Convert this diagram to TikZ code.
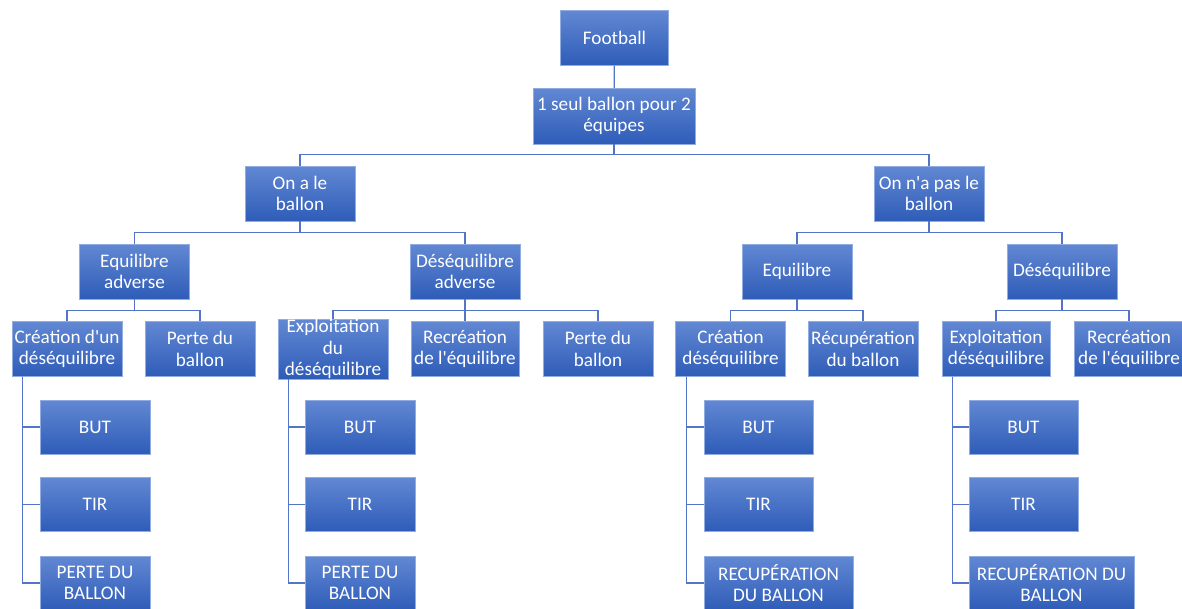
\documentclass[tikz,border=0pt]{standalone}
\usepackage{fontspec}
\setmainfont{Carlito}[Ligatures=TeXOff]
\definecolor{boxtop}{RGB}{98,136,211}
\definecolor{boxbot}{RGB}{46,92,184}
\definecolor{linecol}{RGB}{82,117,197}
\newcommand{\boxfont}{\fontsize{19.2}{21.5}\selectfont}
\tikzset{
  box/.style={rectangle, top color=boxtop, bottom color=boxbot, draw=boxtop!70!white, line width=0.4pt,
    text=white, minimum width=110, minimum height=55, inner sep=0pt, align=center, font=\boxfont},
  conn/.style={draw=linecol, line width=1.3pt}
}
\begin{document}
\begin{tikzpicture}[x=1pt,y=-1pt]
\useasboundingbox (0,0) rectangle (1182,608);
% nodes
\node[box, minimum width=108] (football) at (614.5,38) {Football};
\node[box, minimum width=162, minimum height=56] (seul) at (614,116) {1 seul ballon pour 2\\équipes};
\node[box] (onale) at (300,193.5) {On a le\\ballon};
\node[box] (onapas) at (929,193.5) {On n'a pas le\\ballon};
\node[box] (eqadv) at (134.5,271.5) {Equilibre\\adverse};
\node[box] (desadv) at (465,271.5) {Déséquilibre\\adverse};
\node[box] (eq) at (797,271.5) {Equilibre};
\node[box] (deseq) at (1062,271.5) {Déséquilibre};
\node[box] (crea1) at (67,349) {Création d'un\\déséquilibre};
\node[box] (perte1) at (200,349) {Perte du\\ballon};
\node[box] (expl1) at (333,349) {Exploitation\\du\\déséquilibre};
\node[box, minimum width=108] (recr1) at (465,349) {Recréation\\de l'équilibre};
\node[box] (perte2) at (598,349) {Perte du\\ballon};
\node[box] (crea2) at (730.5,349) {Création\\déséquilibre};
\node[box] (recup1) at (863,349) {Récupération\\du ballon};
\node[box, minimum width=108] (expl2) at (996,349) {Exploitation\\déséquilibre};
\node[box] (recr2) at (1129,349) {Recréation\\de l'équilibre};
% leaf group 1
\node[box, minimum height=54] (but1) at (95,427) {BUT};
\node[box, minimum height=54] (tir1) at (95,504.5) {TIR};
\node[box, minimum height=54] (perte3) at (95,583) {PERTE DU\\BALLON};
% leaf group 2
\node[box, minimum height=54] (but2) at (360,427) {BUT};
\node[box, minimum height=54] (tir2) at (360,504.5) {TIR};
\node[box, minimum height=54] (perte4) at (360,583) {PERTE DU\\BALLON};
% leaf group 3
\node[box, minimum width=109, minimum height=54] (but3) at (758.5,427) {BUT};
\node[box, minimum width=109, minimum height=54] (tir3) at (758.5,504.5) {TIR};
\node[box, minimum width=149, minimum height=54] (recup2) at (778.5,583) {RECUPÉRATION\\DU BALLON};
% leaf group 4
\node[box, minimum width=109, minimum height=54] (but4) at (1023.5,427) {BUT};
\node[box, minimum width=109, minimum height=54] (tir4) at (1023.5,504.5) {TIR};
\node[box, minimum width=165, minimum height=54] (recup3) at (1051.5,583) {RECUPÉRATION DU\\BALLON};
% connectors
\draw[conn] (football) -- (seul);
\draw[conn] (seul.south) -- ++(0,10) -| (onale.north);
\draw[conn] (seul.south) -- ++(0,10) -| (onapas.north);
\draw[conn] (onale.south) -- ++(0,11) -| (eqadv.north);
\draw[conn] (onale.south) -- ++(0,11) -| (desadv.north);
\draw[conn] (onapas.south) -- ++(0,11) -| (eq.north);
\draw[conn] (onapas.south) -- ++(0,11) -| (deseq.north);
\draw[conn] (eqadv.south) -- ++(0,11) -| (crea1.north);
\draw[conn] (eqadv.south) -- ++(0,11) -| (perte1.north);
\draw[conn] (desadv.south) -- ++(0,11) -| (expl1.north);
\draw[conn] (desadv.south) -- ++(0,11) -| (recr1.north);
\draw[conn] (desadv.south) -- ++(0,11) -| (perte2.north);
\draw[conn] (eq.south) -- ++(0,11) -| (crea2.north);
\draw[conn] (eq.south) -- ++(0,11) -| (recup1.north);
\draw[conn] (deseq.south) -- ++(0,11) -| (expl2.north);
\draw[conn] (deseq.south) -- ++(0,11) -| (recr2.north);
\draw[conn] ([xshift=11]crea1.south west) |- (but1.west);
\draw[conn] ([xshift=11]crea1.south west) |- (tir1.west);
\draw[conn] ([xshift=11]crea1.south west) |- (perte3.west);
\draw[conn] ([xshift=11]expl1.south west) |- (but2.west);
\draw[conn] ([xshift=11]expl1.south west) |- (tir2.west);
\draw[conn] ([xshift=11]expl1.south west) |- (perte4.west);
\draw[conn] ([xshift=11]crea2.south west) |- (but3.west);
\draw[conn] ([xshift=11]crea2.south west) |- (tir3.west);
\draw[conn] ([xshift=11]crea2.south west) |- (recup2.west);
\draw[conn] ([xshift=11]expl2.south west) |- (but4.west);
\draw[conn] ([xshift=11]expl2.south west) |- (tir4.west);
\draw[conn] ([xshift=11]expl2.south west) |- (recup3.west);
\end{tikzpicture}
\end{document}
